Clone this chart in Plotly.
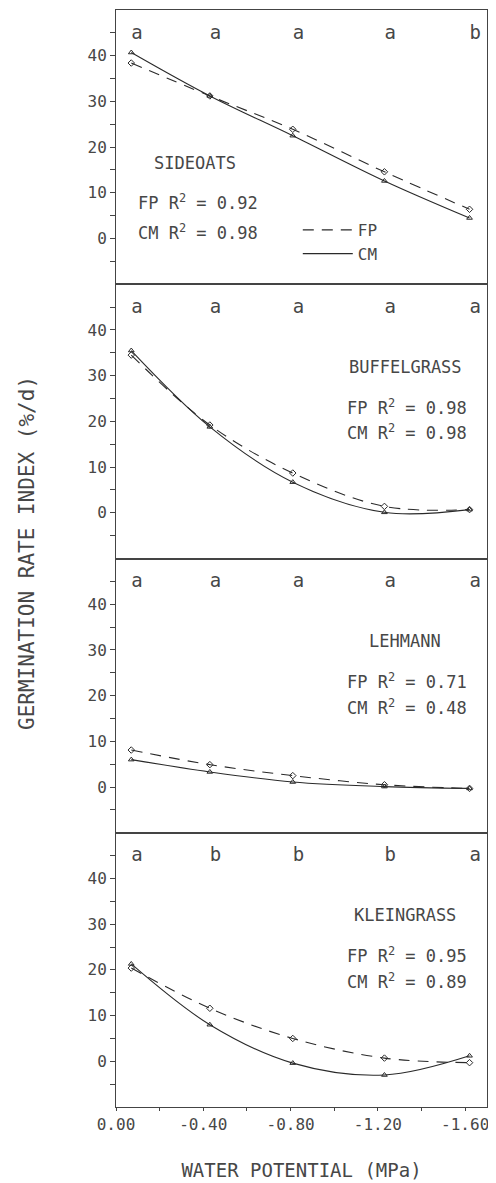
import plotly.graph_objects as go
from plotly.subplots import make_subplots

# ---------------- data ----------------
WATER_POTENTIAL = [-0.07, -0.43, -0.81, -1.23, -1.62]   # MPa

SPECIES = ["SIDEOATS", "BUFFELGRASS", "LEHMANN", "KLEINGRASS"]

SIDEOATS_FP = [38.4, 31.2, 23.9, 14.6, 6.4]
SIDEOATS_CM = [40.7, 31.2, 22.5, 12.6, 4.5]
BUFFEL_FP = [34.5, 19.2, 8.7, 1.4, 0.7]
BUFFEL_CM = [35.5, 18.8, 6.7, 0.1, 0.7]
LEHMANN_FP = [8.1, 4.9, 2.5, 0.5, -0.3]
LEHMANN_CM = [6.0, 3.3, 1.1, 0.1, -0.3]
KLEIN_FP = [20.4, 11.6, 5.0, 0.7, -0.3]
KLEIN_CM = [21.3, 8.0, -0.4, -3.0, 1.2]

FP_SERIES = [SIDEOATS_FP, BUFFEL_FP, LEHMANN_FP, KLEIN_FP]
CM_SERIES = [SIDEOATS_CM, BUFFEL_CM, LEHMANN_CM, KLEIN_CM]

LETTERS = [
    ["a", "a", "a", "a", "b"],
    ["a", "a", "a", "a", "a"],
    ["a", "a", "a", "a", "a"],
    ["a", "b", "b", "b", "a"],
]
FP_R2 = ["0.92", "0.98", "0.71", "0.95"]
CM_R2 = ["0.98", "0.98", "0.48", "0.89"]

Y_TICKS = [0, 10, 20, 30, 40]
Y_MINOR = [-5, 5, 15, 25, 35, 45]
X_TICKS = [0.0, -0.4, -0.8, -1.2, -1.6]
X_TICKTEXT = ["0.00", "-0.40", "-0.80", "-1.20", "-1.60"]
X_MINOR = [-0.2, -0.6, -1.0, -1.4]

# ---------------- style ----------------
INK = "#2a2a2a"
TXT = "#474747"
FONT = "DejaVu Sans Mono"
LETTER_Y = 44.8

fig = make_subplots(rows=4, cols=1, shared_xaxes=True, vertical_spacing=0)

for i in range(4):
    r = i + 1
    fp = FP_SERIES[i]
    cm = CM_SERIES[i]
    fig.add_trace(go.Scatter(
        x=WATER_POTENTIAL, y=fp, mode="lines", name="FP",
        line=dict(color=INK, width=1.1, dash="11px,8px", shape="spline", smoothing=1.0),
        showlegend=(i == 0), legendgroup="FP"), row=r, col=1)
    fig.add_trace(go.Scatter(
        x=WATER_POTENTIAL, y=cm, mode="lines", name="CM",
        line=dict(color=INK, width=1.1, shape="spline", smoothing=1.0),
        showlegend=(i == 0), legendgroup="CM"), row=r, col=1)
    fig.add_trace(go.Scatter(
        x=WATER_POTENTIAL, y=fp, mode="markers", showlegend=False,
        marker=dict(symbol="diamond-open", size=5, color=INK, line=dict(width=1))),
        row=r, col=1)
    fig.add_trace(go.Scatter(
        x=WATER_POTENTIAL, y=cm, mode="markers", showlegend=False,
        marker=dict(symbol="triangle-up-open", size=5, color=INK, line=dict(width=1))),
        row=r, col=1)
    fig.add_trace(go.Scatter(
        x=WATER_POTENTIAL, y=[LETTER_Y] * len(WATER_POTENTIAL), mode="text",
        text=LETTERS[i], textposition="middle right", showlegend=False,
        textfont=dict(family=FONT, size=19, color=TXT)), row=r, col=1)

# panel labels
ann = []
def add_ann(text, x, y, r, anchor="left"):
    yref = "y" if r == 1 else f"y{r}"
    xref = "x" if r == 1 else f"x{r}"
    ann.append(dict(text=text, x=x, y=y, xref=xref, yref=yref, xanchor=anchor,
                    yanchor="middle", showarrow=False,
                    font=dict(family=FONT, size=17, color=TXT)))

add_ann(SPECIES[0], -0.163, 16.6, 1)
add_ann("FP R<sup>2</sup> = " + FP_R2[0], -0.09, 8.1, 1)
add_ann("CM R<sup>2</sup> = " + CM_R2[0], -0.09, 1.5, 1)
for i in range(1, 4):
    add_ann(SPECIES[i], -1.325, 32.0, i + 1, anchor="center")
    add_ann("FP R<sup>2</sup> = " + FP_R2[i], -1.048, 23.2, i + 1)
    add_ann("CM R<sup>2</sup> = " + CM_R2[i], -1.048, 17.6, i + 1)

ann.append(dict(text="GERMINATION RATE INDEX (%/d)", x=-0.24, y=0.505,
                xref="paper", yref="paper", textangle=-90, showarrow=False,
                xanchor="center", yanchor="middle",
                font=dict(family=FONT, size=21, color=TXT)))

axis_common = dict(showline=True, mirror=True, linecolor="#444", linewidth=1,
                   showgrid=False, zeroline=False)

for r in range(1, 5):
    fig.update_yaxes(range=[-10, 50], tickmode="array", tickvals=Y_TICKS,
                     ticks="outside", ticklen=5, tickcolor="#444",
                     minor=dict(tickmode="array", tickvals=Y_MINOR, ticks="outside",
                                ticklen=5, tickcolor="#444", showgrid=False),
                     tickfont=dict(family=FONT, size=16, color=TXT),
                     **axis_common, row=r, col=1)
    fig.update_xaxes(range=[0, -1.70], ticks="", showticklabels=False,
                     **axis_common, row=r, col=1)

fig.update_xaxes(ticks="outside", ticklen=3, tickcolor="#444", showticklabels=True,
                 tickmode="array", tickvals=X_TICKS, ticktext=X_TICKTEXT,
                 minor=dict(tickmode="array", tickvals=X_MINOR, ticks="outside",
                            ticklen=3, tickcolor="#444", showgrid=False),
                 tickfont=dict(family=FONT, size=16, color=TXT),
                 title=dict(text="WATER POTENTIAL (MPa)", standoff=30,
                            font=dict(family=FONT, size=19, color=TXT)),
                 row=4, col=1)

# page body has an 8px margin: the figure is sized to fill the rest of the window
fig.update_layout(
    width=488, height=1175,
    margin=dict(l=108, r=9, t=2, b=76),
    paper_bgcolor="white", plot_bgcolor="white",
    annotations=ann,
    legend=dict(x=0.49, y=0.815, xanchor="left", yanchor="top",
                bgcolor="rgba(0,0,0,0)", itemwidth=50, tracegroupgap=0,
                font=dict(family=FONT, size=16, color=TXT)),
    font=dict(family=FONT, color=TXT),
)

fig.write_html("out.html")
